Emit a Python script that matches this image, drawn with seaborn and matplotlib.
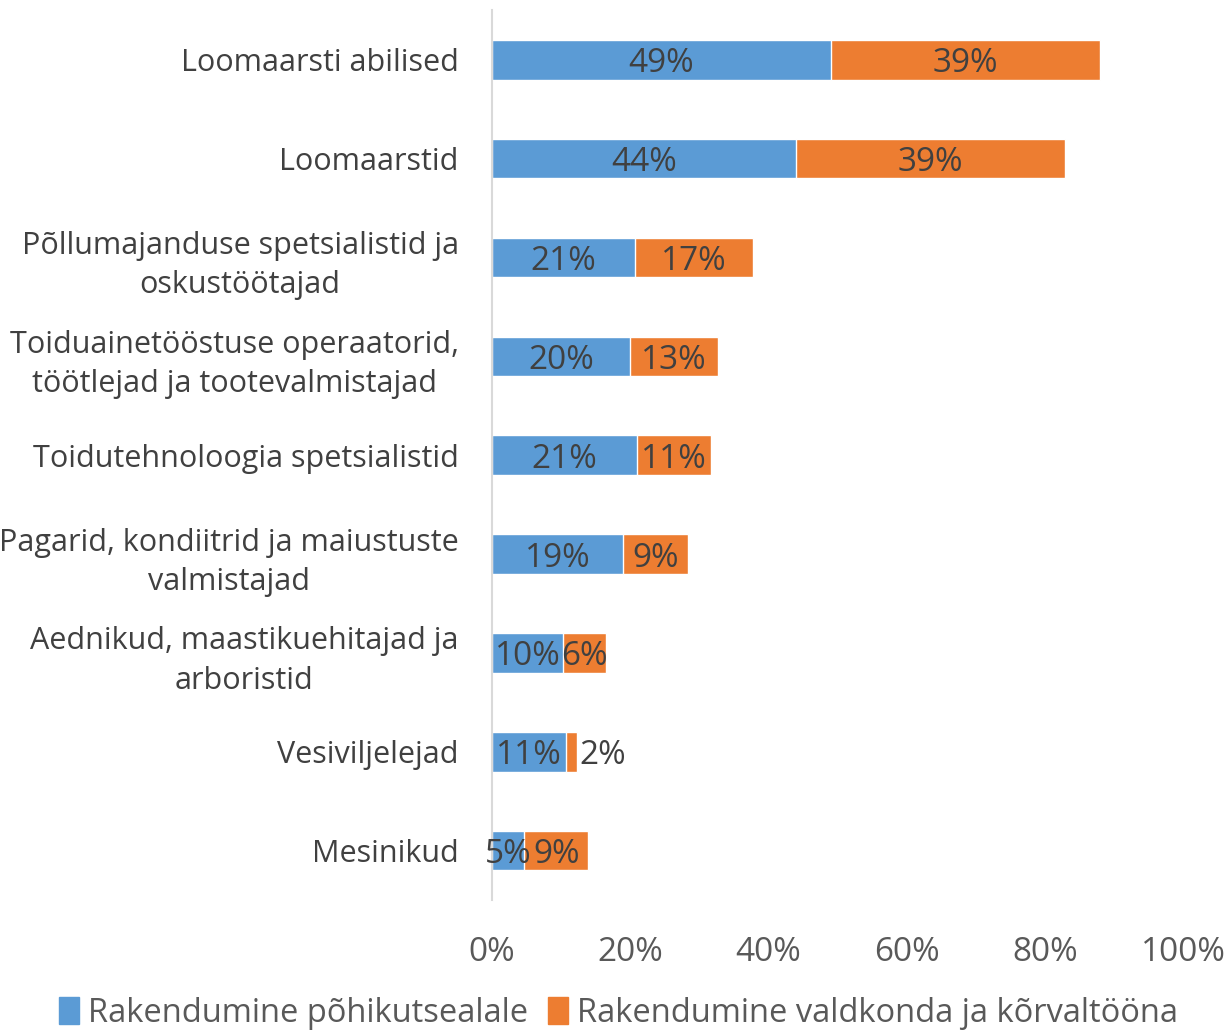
import matplotlib
matplotlib.use("Agg")
import matplotlib.pyplot as plt
import seaborn as sns
import pandas as pd
from matplotlib.patches import Patch

categories = [
    "Loomaarsti abilised",
    "Loomaarstid",
    "Põllumajanduse spetsialistid ja\noskustöötajad",
    "Toiduainetööstuse operaatorid,\ntöötlejad ja tootevalmistajad",
    "Toidutehnoloogia spetsialistid",
    "Pagarid, kondiitrid ja maiustuste\nvalmistajad",
    "Aednikud, maastikuehitajad ja\narboristid",
    "Vesiviljelejad",
    "Mesinikud",
]
pohikutseala = [0.49, 0.44, 0.207, 0.20, 0.21, 0.19, 0.103, 0.107, 0.047]
korvaltoo = [0.39, 0.389, 0.171, 0.127, 0.107, 0.093, 0.062, 0.016, 0.092]
series_names = ["Rakendumine põhikutsealale", "Rakendumine valdkonda ja kõrvaltööna"]
x_ticks = [0, 0.2, 0.4, 0.6, 0.8, 1.0]

blue = "#5B9BD5"
orange = "#ED7D31"
text_col = "#404040"
tick_col = "#595959"

sns.set_theme(style="white")
plt.rcParams["font.family"] = ["Open Sans", "DejaVu Sans"]

df = pd.DataFrame({"cat": categories, "a": pohikutseala, "b": korvaltoo})
df["total"] = df["a"] + df["b"]

fig = plt.figure(figsize=(12.3, 10.31), dpi=100)
ax = fig.add_axes([0.4, 0.127, 0.5618, 0.863])

sns.barplot(data=df, y="cat", x="total", color=orange, width=0.4,
            saturation=1, ax=ax, orient="h")
sns.barplot(data=df, y="cat", x="a", color=blue, width=0.4,
            saturation=1, ax=ax, orient="h")

fs_lab = 24
for i, (a, b) in enumerate(zip(pohikutseala, korvaltoo)):
    ax.text(a / 2, i, f"{round(a * 100):.0f}%", ha="center", va="center_baseline",
            fontsize=fs_lab, color=text_col)
    if b < 0.03:
        ax.text(a + b + 0.003, i, f"{round(b * 100):.0f}%", ha="left",
                va="center_baseline", fontsize=fs_lab, color=text_col)
    else:
        ax.text(a + b / 2, i, f"{round(b * 100):.0f}%", ha="center",
                va="center_baseline", fontsize=fs_lab, color=text_col)

ax.set_xlim(0, 1)
ax.set_ylim(8.5, -0.5)
ax.set_xticks(x_ticks)
ax.set_xticklabels([f"{int(t * 100)}%" for t in x_ticks], fontsize=24, color=tick_col)
ax.tick_params(axis="x", length=0, pad=26)
ax.tick_params(axis="y", length=0, pad=24, labelsize=22, labelcolor=text_col)
for lbl in ax.get_yticklabels():
    lbl.set_multialignment("center")
    lbl.set_linespacing(1.4)
ax.set_xlabel("")
ax.set_ylabel("")
for s in ["top", "right", "bottom"]:
    ax.spines[s].set_visible(False)
ax.spines["left"].set_color("#D9D9D9")
ax.spines["left"].set_linewidth(1.5)

handles = [Patch(color=blue), Patch(color=orange)]
fig.legend(handles, series_names, loc="center", bbox_to_anchor=(0.503, 0.017),
           ncol=2, frameon=False, fontsize=23.5, handlelength=0.6,
           handleheight=0.9, handletextpad=0.3, columnspacing=0.6,
           labelcolor=tick_col)

fig.savefig("out.png", dpi=100)
